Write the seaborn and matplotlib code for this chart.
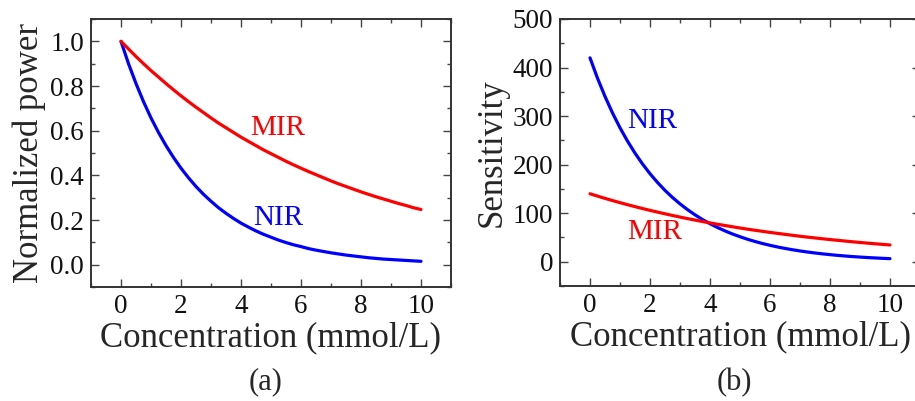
import matplotlib
matplotlib.use("Agg")
import matplotlib.pyplot as plt
from matplotlib.ticker import MultipleLocator, FormatStrFormatter
import seaborn as sns
import pandas as pd

# ---- data ----
concentration = [0.0, 0.25, 0.5, 0.75, 1.0, 1.25, 1.5, 1.75, 2.0, 2.25, 2.5, 2.75,
                 3.0, 3.25, 3.5, 3.75, 4.0, 4.25, 4.5, 4.75, 5.0, 5.25, 5.5, 5.75,
                 6.0, 6.25, 6.5, 6.75, 7.0, 7.25, 7.5, 7.75, 8.0, 8.25, 8.5, 8.75,
                 9.0, 9.25, 9.5, 9.75, 10.0]
power_nir = [1.000, 0.900, 0.811, 0.730, 0.657, 0.592, 0.533, 0.480, 0.432, 0.389, 0.350, 0.315,
             0.284, 0.255, 0.230, 0.207, 0.186, 0.168, 0.151, 0.136, 0.123, 0.110, 0.099, 0.089,
             0.081, 0.072, 0.065, 0.059, 0.053, 0.048, 0.043, 0.039, 0.035, 0.031, 0.028, 0.025,
             0.023, 0.021, 0.019, 0.017, 0.015]
power_mir = [1.000, 0.966, 0.932, 0.900, 0.869, 0.840, 0.811, 0.783, 0.756, 0.730, 0.705, 0.681,
             0.657, 0.634, 0.613, 0.592, 0.571, 0.552, 0.533, 0.514, 0.497, 0.480, 0.463, 0.447,
             0.432, 0.417, 0.403, 0.389, 0.375, 0.362, 0.350, 0.338, 0.326, 0.315, 0.304, 0.294,
             0.284, 0.274, 0.265, 0.255, 0.247]
sens_nir = [420.0, 378.1, 340.5, 306.5, 275.9, 248.5, 223.7, 201.4, 181.3, 163.3, 147.0, 132.3,
            119.2, 107.3, 96.6, 86.9, 78.3, 70.5, 63.5, 57.1, 51.5, 46.3, 41.7, 37.5,
            33.8, 30.4, 27.4, 24.7, 22.2, 20.0, 18.0, 16.2, 14.6, 13.1, 11.8, 10.6,
            9.6, 8.6, 7.8, 7.0, 6.3]
sens_mir = [140.0, 135.2, 130.5, 126.0, 121.7, 117.5, 113.5, 109.6, 105.8, 102.2, 98.7, 95.3,
            92.0, 88.8, 85.8, 82.8, 80.0, 77.2, 74.6, 72.0, 69.5, 67.1, 64.8, 62.6,
            60.4, 58.4, 56.4, 54.4, 52.5, 50.7, 49.0, 47.3, 45.7, 44.1, 42.6, 41.1,
            39.7, 38.3, 37.0, 35.8, 34.5]
series_names = ["NIR", "MIR"]
xticks = [0, 2, 4, 6, 8, 10]
panel_labels = ["(a)", "(b)"]

sns.set_style("ticks")
plt.rcParams["font.family"] = ["Liberation Serif", "DejaVu Serif"]

palette = {"NIR": "#0000ff", "MIR": "#ff0000"}

n = len(concentration)
df_a = pd.DataFrame({
    "x": concentration * 2,
    "y": power_nir + power_mir,
    "band": [series_names[0]] * n + [series_names[1]] * n,
})
df_b = pd.DataFrame({
    "x": concentration * 2,
    "y": sens_nir + sens_mir,
    "band": [series_names[0]] * n + [series_names[1]] * n,
})

fig = plt.figure(figsize=(9.15, 4.01), dpi=100)
ax1 = fig.add_axes([91 / 915, 114 / 401, 360 / 915, 268 / 401])
ax2 = fig.add_axes([560 / 915, 115 / 401, 360 / 915, 267 / 401])

for ax, df in ((ax1, df_a), (ax2, df_b)):
    sns.lineplot(data=df, x="x", y="y", hue="band", palette=palette, ax=ax,
                 linewidth=2.3, legend=False, sort=False)

ax1.set_xlim(-1, 11)
ax1.set_ylim(-0.1, 1.1)
ax1.yaxis.set_major_locator(MultipleLocator(0.2))
ax1.yaxis.set_minor_locator(MultipleLocator(0.1))
ax1.yaxis.set_major_formatter(FormatStrFormatter("%.1f"))
ax1.set_ylabel("Normalized power", fontsize=25, labelpad=3)
ax1.text(5.23, 0.61, "MIR", color=palette["MIR"], fontsize=21, ha="center", va="center")
ax1.text(5.25, 0.21, "NIR", color=palette["NIR"], fontsize=21, ha="center", va="center")

ax2.set_xlim(-1, 11)
ax2.set_ylim(-50, 500)
ax2.yaxis.set_major_locator(MultipleLocator(100))
ax2.yaxis.set_minor_locator(MultipleLocator(50))
ax2.set_ylabel("Sensitivity", fontsize=25, labelpad=3)
ax2.text(2.07, 290, "NIR", color=palette["NIR"], fontsize=21, ha="center", va="center")
ax2.text(2.17, 62, "MIR", color=palette["MIR"], fontsize=21, ha="center", va="center")

for ax, lab in zip((ax1, ax2), panel_labels):
    ax.set_xticks(xticks)
    ax.xaxis.set_minor_locator(MultipleLocator(1))
    ax.set_xlabel("Concentration (mmol/L)", fontsize=25, labelpad=2)
    ax.tick_params(which="both", direction="in", top=True, right=True,
                   labelsize=19.5, color="#444444", width=1.0, labelcolor="#111111")
    ax.tick_params(which="major", length=6, pad=5)
    ax.tick_params(which="minor", length=3)
    for s in ax.spines.values():
        s.set_visible(True)
        s.set_linewidth(1.4)
        s.set_color("#333333")
    bbox = ax.get_position()
    fig.text((bbox.x0 + bbox.x1) / 2 - 0.006, 0.047, lab, fontsize=22,
             ha="center", va="center")

fig.savefig("out.png", dpi=100)
